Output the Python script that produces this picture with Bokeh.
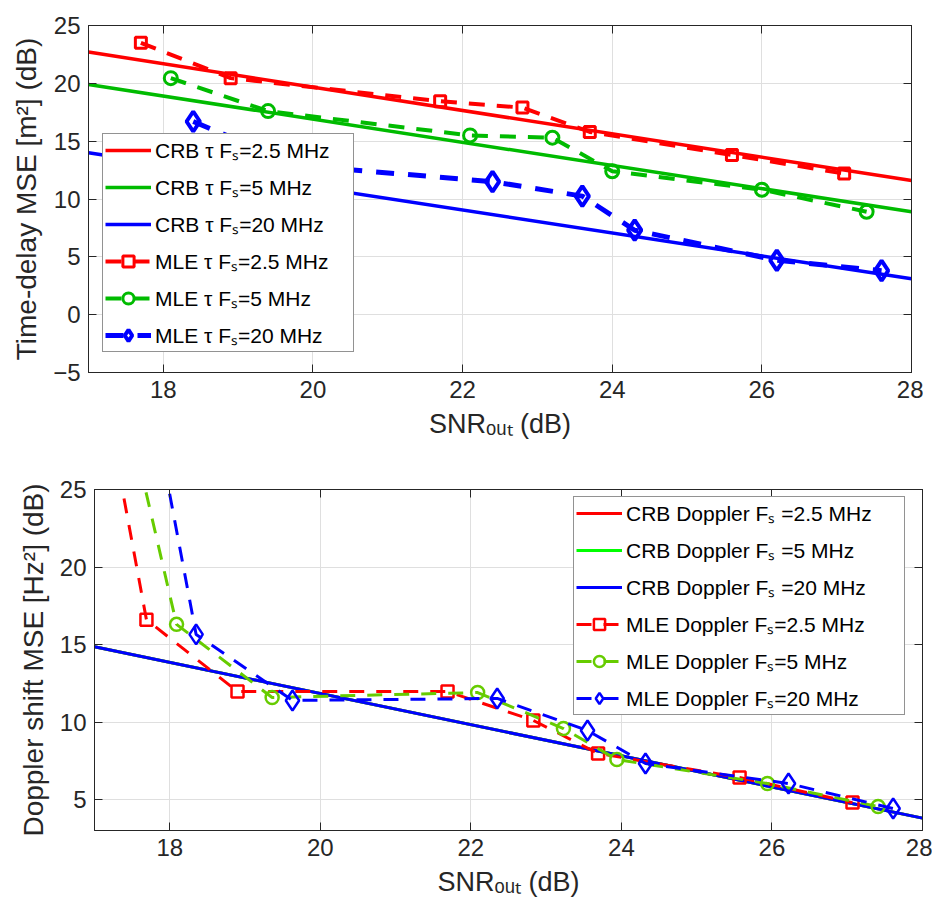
from bokeh.plotting import figure
from bokeh.models import LinearAxis, FixedTicker, Legend, LegendItem, Range1d
from bokeh.embed import file_html
from bokeh.resources import INLINE

# ---------------- data ----------------
x_ticks = [18, 20, 22, 24, 26, 28]
y_ticks_tau = [-5, 0, 5, 10, 15, 20, 25]
y_ticks_dop = [5, 10, 15, 20, 25]

# top: time-delay MSE
snr_crb = [17, 28]
crb_tau_25 = [22.7, 11.6]
crb_tau_5 = [19.9, 8.9]
crb_tau_20 = [14.0, 3.1]

snr_mle_25 = [17.7, 18.9, 21.7, 22.8, 23.7, 25.6, 27.1]
mle_tau_25 = [23.5, 20.45, 18.45, 17.9, 15.8, 13.8, 12.2]
snr_mle_5 = [18.1, 19.4, 22.1, 23.2, 24.0, 26.0, 27.4]
mle_tau_5 = [20.45, 17.6, 15.5, 15.3, 12.4, 10.8, 8.9]
snr_mle_20 = [18.4, 19.8, 22.4, 23.6, 24.3, 26.2, 27.6]
mle_tau_20 = [16.7, 12.9, 11.5, 10.25, 7.3, 4.7, 3.8]

# bottom: Doppler shift MSE
crb_dop_25 = [14.85, 3.8]
crb_dop_5 = [14.85, 3.8]
crb_dop_20 = [14.85, 3.8]

snr_dop_25 = [17.0, 17.69, 18.9, 21.69, 22.83, 23.69, 25.57, 27.07]
mle_dop_25 = [34.7, 16.6, 11.97, 11.97, 10.1, 7.97, 6.42, 4.8]
snr_dop_5 = [17.2, 18.09, 19.36, 22.09, 23.23, 23.94, 25.94, 27.41]
mle_dop_5 = [35.0, 16.3, 11.58, 11.9, 9.58, 7.58, 6.03, 4.55]
snr_dop_20 = [17.6, 18.35, 19.63, 22.35, 23.55, 24.32, 26.22, 27.61]
mle_dop_20 = [35.0, 15.65, 11.39, 11.52, 9.45, 7.32, 6.03, 4.42]

RED = "#ff0000"
GREEN_T = "#00bb00"
BLUE = "#0000ff"
GREEN_CRB_D = "#00ff00"
GREEN_MLE_D = "#66cc00"
AX = "#262626"
FONT = "Liberation Sans"


def style(p, yticks, ylabel):
    p.xaxis.ticker = FixedTicker(ticks=x_ticks)
    p.yaxis.ticker = FixedTicker(ticks=yticks)
    p.xaxis.axis_label = "SNRₒᵤₜ (dB)"
    p.yaxis.axis_label = ylabel
    for ax in p.axis:
        ax.axis_line_color = AX
        ax.major_tick_line_color = AX
        ax.major_tick_in = 8
        ax.major_tick_out = 0
        ax.minor_tick_line_color = None
        ax.major_label_text_font = FONT
        ax.major_label_text_font_size = "24px"
        ax.major_label_text_color = AX
        ax.axis_label_text_font = FONT
        ax.axis_label_text_font_style = "normal"
        ax.axis_label_text_color = AX
        ax.major_label_standoff = 8
        ax.axis_label_standoff = 8
    p.xaxis.axis_label_text_font_size = "27px"
    p.yaxis.axis_label_text_font_size = "28px"
    for loc, tk in (("above", x_ticks), ("right", yticks)):
        a = LinearAxis(ticker=FixedTicker(ticks=tk))
        a.axis_line_color = AX
        a.major_tick_line_color = AX
        a.major_tick_in = 8
        a.major_tick_out = 0
        a.minor_tick_line_color = None
        a.major_label_text_font_size = "0px"
        a.major_label_text_color = None
        a.major_label_standoff = 0
        p.add_layout(a, loc)
    p.grid.grid_line_color = "#dfdfdf"
    p.grid.grid_line_width = 1
    p.xgrid.ticker = FixedTicker(ticks=x_ticks)
    p.ygrid.ticker = FixedTicker(ticks=yticks)
    p.outline_line_color = AX
    p.background_fill_color = "white"


# ---------------- top figure ----------------
p1 = figure(frame_width=823, frame_height=347,
            x_range=Range1d(17, 28), y_range=Range1d(-5, 25),
            output_backend="svg", toolbar_location=None,
            min_border_left=88, min_border_top=25, min_border_right=12,
            min_border_bottom=75)
style(p1, y_ticks_tau, "Time-delay MSE [m²] (dB)")

r_c1 = p1.line(snr_crb, crb_tau_25, line_color=RED, line_width=3.5)
r_c2 = p1.line(snr_crb, crb_tau_5, line_color=GREEN_T, line_width=3.5)
r_c3 = p1.line(snr_crb, crb_tau_20, line_color=BLUE, line_width=3.5)

r_m1l = p1.line(snr_mle_25, mle_tau_25, line_color=RED, line_width=4, line_dash="16 12")
r_m1s = p1.scatter(snr_mle_25, mle_tau_25, marker="square", size=11, line_color=RED,
                   line_width=3, fill_color=None)
r_m2l = p1.line(snr_mle_5, mle_tau_5, line_color=GREEN_T, line_width=4, line_dash="16 12")
r_m2s = p1.scatter(snr_mle_5, mle_tau_5, marker="circle", size=13, line_color=GREEN_T,
                   line_width=3, fill_color=None)
r_m3l = p1.line(snr_mle_20, mle_tau_20, line_color=BLUE, line_width=5, line_dash="18 14")
r_m3s = p1.scatter(snr_mle_20, mle_tau_20, marker="diamond", size=20, line_color=BLUE,
                   line_width=4, fill_color=None)

leg1 = Legend(items=[
    LegendItem(label="CRB τ Fₛ=2.5 MHz", renderers=[r_c1]),
    LegendItem(label="CRB τ Fₛ=5 MHz", renderers=[r_c2]),
    LegendItem(label="CRB τ Fₛ=20 MHz", renderers=[r_c3]),
    LegendItem(label="MLE τ Fₛ=2.5 MHz", renderers=[r_m1l, r_m1s]),
    LegendItem(label="MLE τ Fₛ=5 MHz", renderers=[r_m2l, r_m2s]),
    LegendItem(label="MLE τ Fₛ=20 MHz", renderers=[r_m3l, r_m3s]),
], location=(14, 20))
leg1.label_width = 196

# ---------------- bottom figure ----------------
p2 = figure(frame_width=828, frame_height=341,
            x_range=Range1d(17, 28), y_range=Range1d(3, 25),
            output_backend="svg", toolbar_location=None,
            min_border_left=94, min_border_top=42, min_border_right=10,
            min_border_bottom=65)
style(p2, y_ticks_dop, "Doppler shift MSE [Hz²] (dB)")

d_c1 = p2.line(snr_crb, crb_dop_25, line_color=RED, line_width=3)
d_c2 = p2.line(snr_crb, crb_dop_5, line_color=GREEN_CRB_D, line_width=3)
d_c3 = p2.line(snr_crb, crb_dop_20, line_color=BLUE, line_width=3)

d_m1l = p2.line(snr_dop_25, mle_dop_25, line_color=RED, line_width=3, line_dash="15 12")
d_m1s = p2.scatter(snr_dop_25, mle_dop_25, marker="square", size=12, line_color=RED,
                   line_width=2.5, fill_color=None)
d_m2l = p2.line(snr_dop_5, mle_dop_5, line_color=GREEN_MLE_D, line_width=3, line_dash="15 12")
d_m2s = p2.scatter(snr_dop_5, mle_dop_5, marker="circle", size=13, line_color=GREEN_MLE_D,
                   line_width=2.5, fill_color=None)
d_m3l = p2.line(snr_dop_20, mle_dop_20, line_color=BLUE, line_width=3, line_dash="15 12")
d_m3s = p2.scatter(snr_dop_20, mle_dop_20, marker="diamond", size=20, line_color=BLUE,
                   line_width=2.5, fill_color=None)

leg2 = Legend(items=[
    LegendItem(label="CRB Doppler Fₛ =2.5 MHz", renderers=[d_c1]),
    LegendItem(label="CRB Doppler Fₛ =5 MHz", renderers=[d_c2]),
    LegendItem(label="CRB Doppler Fₛ =20 MHz", renderers=[d_c3]),
    LegendItem(label="MLE Doppler Fₛ=2.5 MHz", renderers=[d_m1l, d_m1s]),
    LegendItem(label="MLE Doppler Fₛ=5 MHz", renderers=[d_m2l, d_m2s]),
    LegendItem(label="MLE Doppler Fₛ=20 MHz", renderers=[d_m3l, d_m3s]),
], location=(479, 115))
leg2.label_width = 276

for leg in (leg1, leg2):
    leg.label_text_font = FONT
    leg.label_text_font_size = "21px"
    leg.label_text_color = "black"
    leg.border_line_color = AX
    leg.border_line_width = 1
    leg.background_fill_color = "white"
    leg.background_fill_alpha = 1.0
    leg.padding = 2
    leg.spacing = 9
    leg.label_height = 28
    leg.glyph_height = 28
    leg.glyph_width = 46
    leg.label_standoff = 4
    leg.margin = 0

p1.add_layout(leg1, "center")
p2.add_layout(leg2, "center")

# two separate roots stacked on the page (keeps each frame at its own left edge)
open("out.html", "w").write(file_html([p1, p2], INLINE))
